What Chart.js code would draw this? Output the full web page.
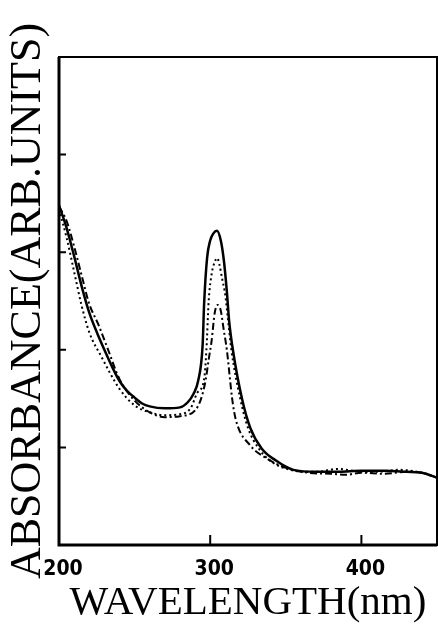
<!DOCTYPE html>
<html>
<head>
<meta charset="utf-8">
<script src="https://cdn.jsdelivr.net/npm/chart.js@4"></script>
<style>
  html, body { margin: 0; padding: 0; background: #fff; }
  #wrap { width: 438px; height: 624px; }
</style>
</head>
<body>
<div id="wrap"><canvas id="absChart" width="438" height="624"></canvas></div>
<script>
// wavelength (nm) / absorbance (arb. units)
const solidNm  = [200, 205, 210, 215, 220, 225, 230, 235, 240, 245, 250, 255, 260, 270, 280, 285, 289, 292, 295, 296, 298, 300, 302, 304.5, 307, 309, 311, 312.5, 315, 321, 326.5, 334, 343, 355, 370, 385, 400, 415, 430, 440, 450];
const solidAbs = [3.48, 3.25, 2.96, 2.65, 2.38, 2.18, 2.00, 1.83, 1.68, 1.58, 1.51, 1.45, 1.42, 1.40, 1.41, 1.46, 1.55, 1.68, 2.05, 2.48, 2.95, 3.12, 3.19, 3.22, 3.12, 2.92, 2.60, 2.30, 2.00, 1.50, 1.20, 0.99, 0.87, 0.77, 0.75, 0.75, 0.76, 0.76, 0.75, 0.74, 0.69];

const dottedNm  = [200, 205, 210, 215, 220, 228, 240, 250, 260, 270, 280, 287, 291.5, 296, 297.5, 299, 301, 303, 304.6, 306, 308, 310, 311.5, 314, 320, 325, 332, 340, 353, 370, 385, 395, 410, 425, 440, 450];
const dottedAbs = [3.44, 3.15, 2.80, 2.45, 2.18, 1.93, 1.60, 1.43, 1.36, 1.33, 1.34, 1.40, 1.56, 1.70, 2.00, 2.50, 2.78, 2.90, 2.94, 2.88, 2.72, 2.56, 2.35, 2.00, 1.49, 1.20, 0.99, 0.86, 0.77, 0.75, 0.78, 0.76, 0.75, 0.77, 0.74, 0.69];

const dashDotNm  = [200, 205, 210, 215, 220, 226, 232, 240, 250, 260, 270, 280, 290, 294, 297, 299, 301, 303, 305, 307, 309, 311, 314.6, 317, 326.5, 336, 350, 365, 380, 390, 400, 415, 430, 440, 450];
const dashDotAbs = [3.47, 3.32, 3.06, 2.76, 2.47, 2.26, 2.02, 1.70, 1.48, 1.36, 1.31, 1.32, 1.38, 1.50, 1.69, 1.90, 2.10, 2.38, 2.46, 2.40, 2.20, 2.00, 1.49, 1.28, 1.02, 0.90, 0.79, 0.74, 0.73, 0.72, 0.74, 0.73, 0.75, 0.74, 0.69];

const xTickValues = [200, 300, 400];
const yTickValues = [1, 2, 3, 4];

const toPoints = (xs, ys) => xs.map((x, i) => ({ x: x, y: ys[i] }));

// frame + inward tick marks, like the original plot
const framePlugin = {
  id: "frame",
  afterDraw(chart) {
    const { ctx, chartArea: a, scales } = chart;
    ctx.save();
    ctx.strokeStyle = "#000";
    ctx.lineWidth = 2;
    ctx.strokeRect(a.left, a.top, a.right - a.left, a.bottom - a.top);
    ctx.lineWidth = 3;
    ctx.beginPath();
    ctx.moveTo(a.left, a.top); ctx.lineTo(a.left, a.bottom); ctx.lineTo(a.right, a.bottom);
    ctx.stroke();
    ctx.lineWidth = 2;
    ctx.beginPath();
    xTickValues.slice(1).forEach(v => {
      const px = scales.x.getPixelForValue(v);
      ctx.moveTo(px, a.bottom); ctx.lineTo(px, a.bottom - 10);
    });
    yTickValues.forEach(v => {
      const py = scales.y.getPixelForValue(v);
      ctx.moveTo(a.left, py); ctx.lineTo(a.left + 7, py);
    });
    ctx.stroke();
    ctx.restore();
  }
};

const lineStyle = { borderColor: "#000", pointRadius: 0, fill: false, cubicInterpolationMode: "monotone" };

new Chart(document.getElementById("absChart").getContext("2d"), {
  type: "line",
  data: {
    datasets: [
      { ...lineStyle, data: toPoints(solidNm, solidAbs), borderWidth: 2.5 },
      { ...lineStyle, data: toPoints(dottedNm, dottedAbs), borderWidth: 2, borderDash: [2, 3] },
      { ...lineStyle, data: toPoints(dashDotNm, dashDotAbs), borderWidth: 2, borderDash: [7, 3, 2, 3] }
    ]
  },
  options: {
    responsive: false,
    animation: false,
    layout: { padding: { top: 57, right: 1, left: 0, bottom: 0 } },
    plugins: { legend: { display: false }, tooltip: { enabled: false } },
    scales: {
      x: {
        type: "linear", min: 200, max: 450,
        afterBuildTicks: s => { s.ticks = xTickValues.map(v => ({ value: v })); },
        afterFit: s => { s.height = 79; },
        grid: { drawOnChartArea: false, drawTicks: false },
        border: { display: false },
        ticks: { color: "#000", padding: 12, maxRotation: 0, labelOffset: 4, font: { family: "'DejaVu Sans Condensed', sans-serif", size: 21, weight: "bold" } },
        title: { display: true, text: "WAVELENGTH(nm)", color: "#000", padding: 0, font: { family: "'Liberation Serif', serif", size: 41, lineHeight: 1 } }
      },
      y: {
        min: 0, max: 5,
        afterFit: s => { s.width = 59; },
        grid: { drawOnChartArea: false, drawTicks: false },
        border: { display: false },
        ticks: { display: false },
        title: { display: true, text: "ABSORBANCE(ARB.UNITS)", color: "#000", padding: 6, font: { family: "'Liberation Serif', serif", size: 44, lineHeight: 1 } }
      }
    }
  },
  plugins: [framePlugin]
});
</script>
</body>
</html>
